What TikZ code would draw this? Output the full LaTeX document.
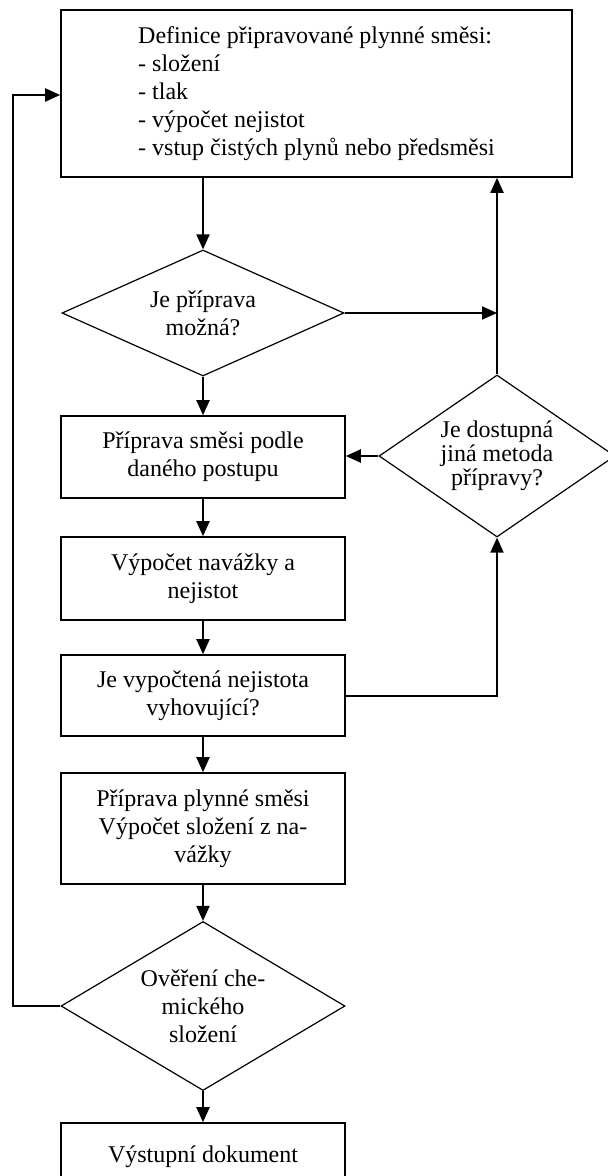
\documentclass[tikz,border=0pt]{standalone}
\usepackage{fontspec}
\setmainfont{Liberation Serif}
\usetikzlibrary{shapes.geometric,arrows.meta}
\begin{document}
\begin{tikzpicture}[
			x=0.5pt, y=-0.5pt,
			font=\fontsize{12}{14}\selectfont,
			box/.style={rectangle, draw, line width=0.8pt, minimum width=142pt, align=center, inner sep=2pt},
			decision/.style={diamond, draw, line width=0.6pt, inner sep=0pt, align=center},
			arrow/.style={-{Triangle[length=7.5pt,width=6.5pt]}, line width=1pt}
		]
		\useasboundingbox (0,0) rectangle (608,1176);

		% Definition of the mixture
		\node[box, minimum width=255.5pt, minimum height=83.5pt, align=left] (def) at (316.5,93.5)
			{Definice připravované plynné směsi:\\- složení\\- tlak\\- výpočet nejistot\\- vstup čistých plynů nebo předsměsi};

		% Decisions
		\node[decision, aspect=2.24, minimum width=141pt, minimum height=63pt] (possible) at (203,313) {Je příprava\\možná?};
		\node[decision, aspect=1.46, minimum width=118pt, minimum height=81pt, font=\fontsize{12}{12}\selectfont] (method) at (497,456) {Je dostupná\\jiná metoda\\přípravy?};

		% Preparation steps
		\node[box, minimum height=41pt] (prep) at (203,457) {Příprava směsi podle\\daného postupu};
		\node[box, minimum height=41.5pt] (calc) at (203,578.5) {Výpočet navážky a\\nejistot};
		\node[box, minimum height=40.5pt] (check) at (203,695.5) {Je vypočtená nejistota\\vyhovující?};
		\node[box, minimum height=55.5pt] (mix) at (203,828.5) {Příprava plynné směsi\\Výpočet složení z na-\\vážky};

		% Verification and output
		\node[decision, aspect=1.68, minimum width=142pt, minimum height=84.5pt] (verify) at (203,1006) {Ověření che-\\mického\\složení};
		\node[box, minimum height=34pt] (out) at (203,1157) {Výstupní dokument};

		\coordinate (back) at (13,95);

		\draw[arrow] (def.south -| possible) -- (possible.north);
		\draw[arrow] (possible.east) -- (possible.east -| method.north);
		\draw[arrow] (method.north) -- (method.north |- def.south);
		\draw[arrow] (possible.south) -- (prep.north);
		\draw[arrow] (method.west) -- (method.west -| prep.east);
		\draw[arrow] (prep.south) -- (calc.north);
		\draw[arrow] (calc.south) -- (check.north);
		\draw[arrow] (check.east) -| (method.south);
		\draw[arrow] (check.south) -- (mix.north);
		\draw[arrow] (mix.south) -- (verify.north);
		\draw[arrow] (verify.south) -- (out.north);
		\draw[arrow] (verify.west) -| (back) -- (back -| def.west);

	\end{tikzpicture}
\end{document}
